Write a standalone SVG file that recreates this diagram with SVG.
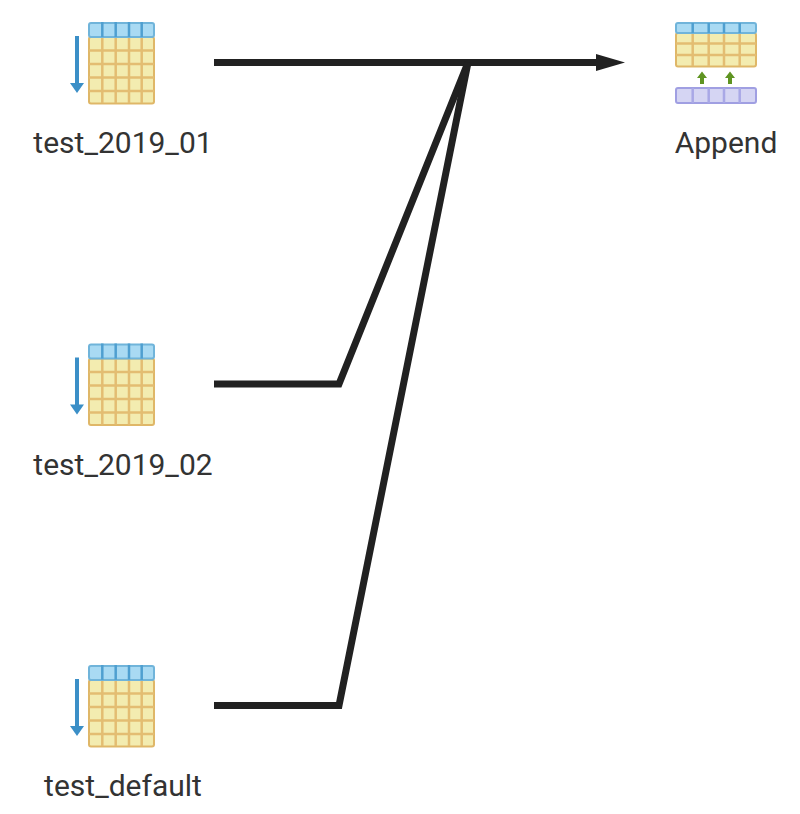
<svg xmlns="http://www.w3.org/2000/svg" width="800" height="814" viewBox="0 0 800 814">
<style>
text{font-family:Roboto,"Liberation Sans",sans-serif;font-size:30px;fill:#333;text-anchor:middle}
.c{fill:none;stroke:#212121;stroke-width:7}
.hd{fill:#a9daf3;stroke:#6fb4da;stroke-width:2}
.bd{fill:#f3ecb0;stroke:#dfb768;stroke-width:2}
.hl{fill:none;stroke:#4f9fd0;stroke-width:2.500}
.bl{fill:none;stroke:#e3bd72;stroke-width:2.500}
.dn{fill:none;stroke:#3a8fc7;stroke-width:4}
.dh{fill:#3a8fc7}
.up{fill:#5e9420}
.pu{fill:#d5d5f3;stroke:#a09fe2;stroke-width:2}
.pl{fill:none;stroke:#a9a8e6;stroke-width:2.500}
</style>
<defs>
<filter id="soft" x="-5%" y="-5%" width="110%" height="110%"><feGaussianBlur stdDeviation="0.6"/></filter>
<g id="tbl" filter="url(#soft)">
<rect class="bd" x="89" y="37" width="65" height="66.500" rx="2"/>
<path class="bl" d="M89 50.500H154M89 64H154M89 77.500H154M89 91H154M102.300 37V103M115.700 37V103M129 37V103M141.700 37V103"/>
<rect class="hd" x="89" y="23" width="65" height="14" rx="2"/>
<path class="hl" d="M102.300 22V37M115.700 22V37M129 22V37M141.700 22V37"/>
<path class="dn" d="M77 36V84"/>
<path class="dh" d="M70 83H84L77 93Z"/>
</g>
</defs>
<g id="connectors">
<path class="c" d="M214 62.500H600"/>
<path class="c" d="M214 384H339L468 62.500"/>
<path class="c" d="M214 705.500H339L468 62.500"/>
<path d="M596 54L625 62.500L596 71Z" fill="#212121"/>
</g>
<g id="test_2019_01">
<use href="#tbl"/>
<text x="123" y="153">test_2019_01</text>
</g>
<g id="test_2019_02">
<use href="#tbl" y="321.500"/>
<text x="123" y="475">test_2019_02</text>
</g>
<g id="test_default">
<use href="#tbl" y="643"/>
<text x="123" y="796">test_default</text>
</g>
<g id="append">
<g filter="url(#soft)">
<rect class="bd" x="676" y="33" width="80" height="33.500" rx="2"/>
<path class="bl" d="M676 43.500H756M676 55H756M692.700 33V66M708.700 33V66M724 33V66M739.700 33V66"/>
<rect class="hd" x="676" y="23" width="80" height="10" rx="2"/>
<path class="hl" d="M692.700 23V33M708.700 23V33M724 23V33M739.700 23V33"/>
<path class="up" d="M702 71.500L707 78H704V84H700V78H697Z"/>
<path class="up" d="M730 71.500L735 78H732V84H728V78H725Z"/>
<rect class="pu" x="676" y="88" width="80" height="15" rx="2"/>
<path class="pl" d="M692.700 88V103M708.700 88V103M724 88V103M739.700 88V103"/>
</g>
<text x="726" y="153">Append</text>
</g>
</svg>
